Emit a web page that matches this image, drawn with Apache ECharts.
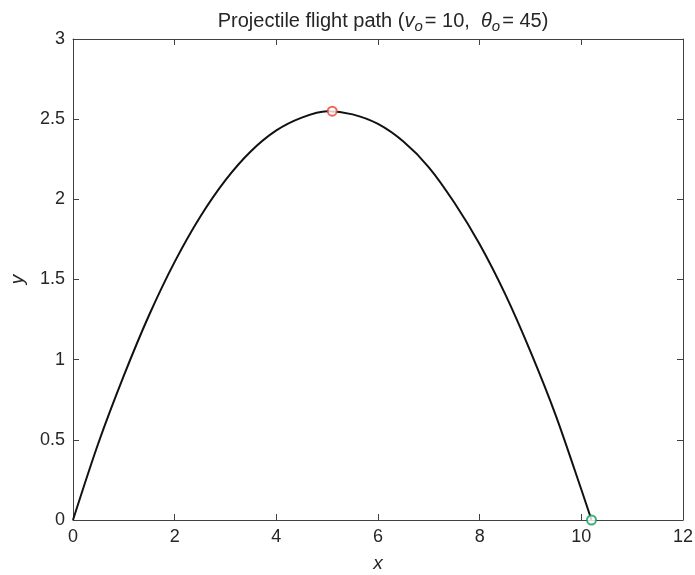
<!DOCTYPE html>
<html>
<head>
<meta charset="utf-8">
<script src="https://cdn.jsdelivr.net/npm/echarts@6/dist/echarts.min.js"></script>
<style>
  html, body { margin: 0; padding: 0; background: #fff; }
  #chart { width: 695px; height: 575px; }
</style>
</head>
<body>
<div id="chart"></div>
<script>
// trajectory
const pathX = [0, 0.5, 1, 1.5, 2, 2.5, 3, 3.5, 4, 4.5, 5, 5.5, 6, 6.5, 7, 7.5, 8, 8.5, 9, 9.5, 10, 10.2]
const pathY = [0, 0.48, 0.90, 1.28, 1.61, 1.89, 2.12, 2.30, 2.43, 2.51, 2.55, 2.53, 2.47, 2.36, 2.20, 1.98, 1.72, 1.41, 1.05, 0.65, 0.19, 0]
const apex = [5.1, 2.55]
const landing = [10.2, 0]
const xTicks = [0, 2, 4, 6, 8, 10, 12]
const yTicks = [0, 0.5, 1, 1.5, 2, 2.5, 3]

const font = 'Liberation Sans, Arial, Helvetica, sans-serif'
const axisColor = '#404040'
const labelColor = '#262626'

const chart = echarts.init(document.getElementById('chart'))

function xAxisCfg(pos, showLabels) {
  return {
    type: 'value',
    position: pos,
    min: xTicks[0],
    max: xTicks[xTicks.length - 1],
    interval: 2,
    name: showLabels ? 'x' : '',
    nameLocation: 'middle',
    nameGap: 34,
    nameTextStyle: { fontFamily: font, fontSize: 19, fontStyle: 'italic', color: labelColor },
    axisLine: { show: true, onZero: false, lineStyle: { color: axisColor, width: 1 } },
    axisTick: { show: true, inside: true, length: 6, lineStyle: { color: axisColor } },
    axisLabel: { show: showLabels, margin: 8, fontFamily: font, fontSize: 18, color: labelColor },
    splitLine: { show: false }
  }
}

function yAxisCfg(pos, showLabels) {
  return {
    type: 'value',
    position: pos,
    min: yTicks[0],
    max: yTicks[yTicks.length - 1],
    interval: 0.5,
    name: showLabels ? 'y' : '',
    nameLocation: 'middle',
    nameGap: 46,
    nameRotate: 90,
    nameTextStyle: { fontFamily: font, fontSize: 19, fontStyle: 'italic', color: labelColor },
    axisLine: { show: true, onZero: false, lineStyle: { color: axisColor, width: 1 } },
    axisTick: { show: true, inside: true, length: 6, lineStyle: { color: axisColor } },
    axisLabel: { show: showLabels, margin: 8, fontFamily: font, fontSize: 18, color: labelColor },
    splitLine: { show: false }
  }
}

chart.setOption({
  animation: false,
  backgroundColor: '#fff',
  title: {
    text: '{n|Projectile flight path (}{i|v}{s|o}{n|= 10,  }{i|θ}{s|o}{n|= 45)}',
    left: 378,
    top: 3,
    textAlign: 'center',
    textStyle: {
      fontWeight: 'normal',
      rich: {
        n: { fontFamily: font, fontSize: 20, fontWeight: 'normal', color: labelColor, lineHeight: 26, verticalAlign: 'middle' },
        i: { fontFamily: font, fontSize: 20, fontWeight: 'normal', fontStyle: 'italic', color: labelColor, lineHeight: 26, verticalAlign: 'middle' },
        s: { fontFamily: font, fontSize: 15, fontWeight: 'normal', fontStyle: 'italic', color: labelColor, lineHeight: 26, verticalAlign: 'bottom', padding: [12, 2, 0, 0] }
      }
    }
  },
  grid: { left: 73, right: 12, top: 39, bottom: 55, containLabel: false, outerBoundsMode: 'none' },
  xAxis: [xAxisCfg('bottom', true), xAxisCfg('top', false)],
  yAxis: [yAxisCfg('left', true), yAxisCfg('right', false)],
  series: [
    {
      name: 'path',
      type: 'line',
      data: pathX.map((x, i) => [x, pathY[i]]),
      smooth: 0.3,
      showSymbol: false,
      lineStyle: { color: '#111', width: 2 }
    },
    {
      name: 'apex',
      type: 'scatter',
      data: [apex],
      symbol: 'emptyCircle',
      symbolSize: 9,
      z: 5,
      itemStyle: { color: '#e8432a', borderColor: '#e8432a', borderWidth: 1.2 }
    },
    {
      name: 'landing',
      type: 'scatter',
      data: [landing],
      symbol: 'emptyCircle',
      symbolSize: 9,
      z: 5,
      itemStyle: { color: '#0c9c5c', borderColor: '#0c9c5c', borderWidth: 1.5 }
    }
  ]
})
</script>
</body>
</html>
